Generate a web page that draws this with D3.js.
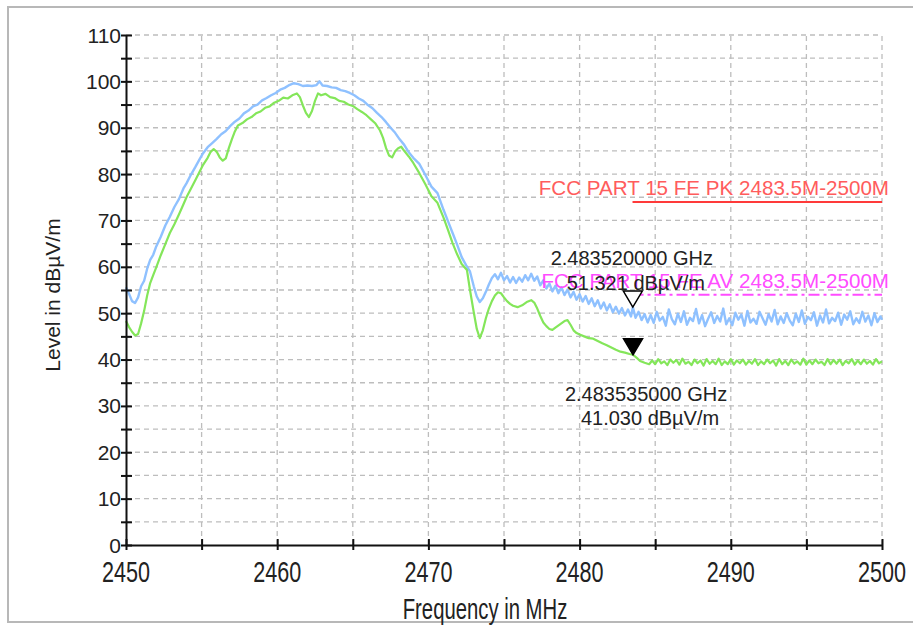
<!DOCTYPE html>
<html>
<head>
<meta charset="utf-8">
<script src="https://cdn.jsdelivr.net/npm/d3@7"></script>
<style>
  html, body { margin: 0; padding: 0; background: #fff; }
  svg { display: block; }
  text { font-family: Arial, "Liberation Sans", sans-serif; }
</style>
</head>
<body>
<div id="chart"></div>
<script>
// ---------------- DATA ----------------
const xDomain = [2450, 2500];
const yDomain = [0, 110];
const xTickValues = [2450, 2455, 2460, 2465, 2470, 2475, 2480, 2485, 2490, 2495, 2500];
const xTickLabels = [2450, 2460, 2470, 2480, 2490, 2500];
const yTickValues = [0, 5, 10, 15, 20, 25, 30, 35, 40, 45, 50, 55, 60, 65, 70, 75, 80, 85, 90, 95, 100, 105, 110];
const yTickLabels = [0, 10, 20, 30, 40, 50, 60, 70, 80, 90, 100, 110];
const xTitle = "Frequency in MHz";
const yTitle = "Level in dBµV/m";

// Peak trace (blue) [MHz, dBµV/m]
const peakTrace = [
[2450.0,55.6],[2450.2,54.2],[2450.4,52.6],[2450.6,52.2],[2450.8,53.4],[2451.0,55.8],[2451.2,57.0],[2451.4,59.6],[2451.6,61.5],[2451.8,62.6],
[2452.0,64.4],[2452.3,66.5],[2452.6,68.9],[2452.9,70.8],[2453.2,72.9],[2453.5,74.6],[2453.8,76.9],[2454.0,78.0],[2454.3,79.9],[2454.6,81.6],
[2454.9,83.4],[2455.1,84.5],[2455.4,85.8],[2455.7,86.7],[2456.0,87.6],[2456.3,88.6],[2456.6,89.3],[2456.9,90.4],[2457.2,91.3],[2457.5,92.0],
[2457.8,93.1],[2458.1,93.7],[2458.4,94.6],[2458.7,95.0],[2459.0,95.9],[2459.3,96.4],[2459.6,97.0],[2459.9,97.5],[2460.2,98.2],[2460.5,98.6],
[2460.8,99.2],[2461.1,99.6],[2461.4,99.4],[2461.7,99.0],[2462.0,99.1],[2462.3,99.0],[2462.6,99.2],[2462.8,100.0],[2463.0,99.1],[2463.3,99.0],
[2463.6,98.7],[2463.9,98.6],[2464.2,98.1],[2464.5,97.9],[2464.8,97.5],[2465.1,97.0],[2465.4,96.3],[2465.7,95.8],[2466.0,94.9],[2466.3,94.2],
[2466.6,93.2],[2466.9,92.3],[2467.2,91.2],[2467.5,90.0],[2467.8,88.9],[2468.1,87.5],[2468.4,86.3],[2468.7,84.7],[2469.0,83.5],[2469.4,82.2],
[2469.8,79.8],[2470.2,77.3],[2470.6,75.9],[2471.0,72.3],[2471.3,69.8],[2471.6,67.3],[2471.9,64.8],[2472.2,62.1],[2472.5,60.3],[2472.75,59.0],
[2473.0,55.8],[2473.2,53.6],[2473.4,52.4],[2473.6,53.2],[2473.8,54.6],[2474.0,56.2],[2474.2,57.6],[2474.4,58.4],[2474.6,57.3],[2474.8,58.7],
[2475.0,57.1],[2475.2,58.0],[2475.4,56.6],[2475.6,57.8],[2475.8,56.5],[2476.0,57.7],[2476.2,56.8],[2476.4,58.2],[2476.6,57.1],[2476.8,58.5],
[2477.0,57.0],[2477.2,57.9],[2477.4,56.0],[2477.6,57.1],[2477.8,55.3],[2478.0,56.4],[2478.2,54.7],[2478.4,55.9],[2478.6,54.3],[2478.8,55.6],
[2479.0,53.9],[2479.2,55.1],[2479.4,53.4],[2479.6,54.6],[2479.8,52.9],[2480.0,54.1],[2480.2,52.5],[2480.4,53.7],[2480.6,52.0],[2480.8,53.2],
[2481.0,51.5],[2481.2,52.8],[2481.4,51.0],[2481.6,52.3],[2481.8,50.6],[2482.0,51.9],[2482.2,50.2],[2482.4,51.4],[2482.6,49.9],[2482.8,51.1],
[2483.0,49.5],[2483.2,50.8],[2483.4,49.3],[2483.52,51.3],[2483.7,49.0],[2483.9,50.3],[2484.1,48.5],[2484.3,49.8],[2484.5,48.0],[2484.7,49.6],
[2484.9,47.9],[2485.1,50.3],[2485.3,48.4],[2485.5,49.2],[2485.7,47.3],[2485.9,50.8],[2486.1,48.7],[2486.3,47.6],[2486.5,49.9],[2486.7,48.1],
[2486.9,50.4],[2487.1,47.5],[2487.3,49.0],[2487.5,48.3],[2487.7,50.9],[2487.9,47.8],[2488.1,49.6],[2488.3,47.2],[2488.5,48.8],[2488.7,50.2],
[2488.9,47.9],[2489.1,49.4],[2489.3,48.2],[2489.5,51.0],[2489.7,47.6],[2489.9,48.9],[2490.1,47.4],[2490.3,50.1],[2490.5,48.6],[2490.7,49.7],
[2490.9,47.3],[2491.1,50.5],[2491.3,48.0],[2491.5,48.8],[2491.7,47.7],[2491.9,50.3],[2492.1,48.9],[2492.3,47.5],[2492.5,49.8],[2492.7,48.2],
[2492.9,50.7],[2493.1,47.6],[2493.3,49.3],[2493.5,47.9],[2493.7,50.0],[2493.9,48.4],[2494.1,47.4],[2494.3,49.9],[2494.5,48.1],[2494.7,50.6],
[2494.9,47.7],[2495.1,49.2],[2495.3,48.5],[2495.5,50.2],[2495.7,47.3],[2495.9,49.5],[2496.1,48.0],[2496.3,50.8],[2496.5,47.8],[2496.7,49.0],
[2496.9,48.3],[2497.1,50.1],[2497.3,47.5],[2497.5,49.7],[2497.7,48.6],[2497.9,50.4],[2498.1,47.6],[2498.3,48.9],[2498.5,47.9],[2498.7,50.3],
[2498.9,48.2],[2499.1,49.5],[2499.3,47.4],[2499.5,50.0],[2499.7,48.1],[2499.9,49.3],[2500.0,48.6]
];

// Average trace (green) [MHz, dBµV/m]
const avgTrace = [
[2450.0,48.3],[2450.2,47.0],[2450.4,46.0],[2450.6,45.2],[2450.8,45.5],[2451.0,47.8],[2451.2,50.5],[2451.4,53.8],[2451.6,56.5],[2451.8,58.2],
[2452.0,59.9],[2452.3,62.5],[2452.6,64.9],[2452.9,67.3],[2453.2,69.2],[2453.5,71.3],[2453.8,73.5],[2454.0,75.0],[2454.3,76.9],[2454.6,78.8],
[2454.9,80.7],[2455.1,82.0],[2455.4,83.5],[2455.6,84.8],[2455.8,85.4],[2456.0,84.8],[2456.2,83.6],[2456.4,82.9],[2456.6,83.4],[2456.8,85.6],
[2457.0,87.5],[2457.2,89.2],[2457.4,90.5],[2457.7,91.0],[2458.0,91.8],[2458.3,92.3],[2458.6,93.1],[2458.9,93.5],[2459.2,94.3],[2459.5,94.6],
[2459.8,95.4],[2460.1,95.8],[2460.4,96.5],[2460.7,96.3],[2461.0,97.0],[2461.3,97.4],[2461.5,96.6],[2461.7,94.8],[2461.9,93.2],[2462.1,92.3],
[2462.3,93.6],[2462.5,95.8],[2462.7,97.4],[2462.9,97.0],[2463.2,97.3],[2463.5,96.6],[2463.8,96.4],[2464.1,95.8],[2464.4,95.6],[2464.7,95.0],
[2465.0,94.7],[2465.3,94.0],[2465.6,93.4],[2465.9,92.7],[2466.2,91.8],[2466.5,90.9],[2466.8,89.4],[2467.0,87.8],[2467.2,85.6],[2467.4,84.0],
[2467.6,83.6],[2467.8,84.9],[2468.0,85.6],[2468.2,85.9],[2468.4,85.0],[2468.7,83.8],[2469.0,82.4],[2469.4,80.2],[2469.8,77.8],[2470.2,75.2],
[2470.6,73.8],[2471.0,70.6],[2471.3,67.9],[2471.6,65.1],[2471.9,62.7],[2472.2,60.6],[2472.55,59.3],[2472.75,55.0],[2473.0,50.2],[2473.2,46.6],
[2473.4,44.6],[2473.6,46.3],[2473.8,48.9],[2474.0,51.0],[2474.2,52.6],[2474.4,53.8],[2474.6,54.5],[2474.8,54.3],[2475.0,53.4],[2475.2,52.6],
[2475.4,52.0],[2475.6,51.6],[2475.9,51.3],[2476.2,51.7],[2476.5,52.4],[2476.8,52.8],[2477.0,52.3],[2477.2,51.0],[2477.4,49.4],[2477.6,48.0],
[2477.8,47.2],[2478.0,46.6],[2478.2,46.4],[2478.4,46.9],[2478.7,47.6],[2479.0,48.3],[2479.2,48.5],[2479.4,47.5],[2479.6,46.3],[2479.8,45.7],
[2480.0,45.4],[2480.3,45.0],[2480.6,44.6],[2480.9,44.5],[2481.2,44.0],[2481.5,43.5],[2481.8,43.1],[2482.1,42.6],[2482.4,42.1],[2482.7,41.7],
[2483.0,41.5],[2483.3,41.2],[2483.535,41.03],[2483.8,40.3],[2484.0,39.7],[2484.3,39.3],[2484.6,39.0],
[2484.8,39.8],[2485.0,39.0],[2485.2,40.1],[2485.4,39.2],[2485.6,39.6],[2485.8,38.8],[2486.0,40.0],[2486.2,39.3],[2486.4,39.9],[2486.6,38.9],
[2486.8,40.2],[2487.0,39.1],[2487.2,39.5],[2487.4,38.8],[2487.6,40.0],[2487.8,39.2],[2488.0,39.8],[2488.2,38.7],[2488.4,40.1],[2488.6,39.1],
[2488.8,39.7],[2489.0,39.0],[2489.2,40.2],[2489.4,38.8],[2489.6,39.6],[2489.8,39.0],[2490.0,40.1],[2490.2,38.9],[2490.4,39.8],[2490.6,39.2],
[2490.8,40.0],[2491.0,38.9],[2491.2,39.7],[2491.4,39.1],[2491.6,40.1],[2491.8,38.8],[2492.0,39.6],[2492.2,39.0],[2492.4,40.0],[2492.6,39.2],
[2492.8,39.8],[2493.0,38.7],[2493.2,40.1],[2493.4,39.0],[2493.6,39.7],[2493.8,38.8],[2494.0,40.0],[2494.2,39.1],[2494.4,39.6],[2494.6,38.9],
[2494.8,40.2],[2495.0,38.9],[2495.2,39.8],[2495.4,39.0],[2495.6,40.0],[2495.8,39.2],[2496.0,39.5],[2496.2,38.8],[2496.4,40.1],[2496.6,39.0],
[2496.8,39.9],[2497.0,39.1],[2497.2,40.0],[2497.4,38.8],[2497.6,39.7],[2497.8,39.2],[2498.0,40.1],[2498.2,38.9],[2498.4,39.8],[2498.6,39.0],
[2498.8,40.0],[2499.0,39.1],[2499.2,39.7],[2499.4,38.9],[2499.6,40.1],[2499.8,39.2],[2500.0,39.6]
];

// Limit lines
const limitNames = ["FCC PART 15 FE PK 2483.5M-2500M", "FCC PART 15 FE AV 2483.5M-2500M"];
const limitStart = [2483.5, 2483.5];
const limitEnd = [2500, 2500];
const limitLevel = [74, 54];

// Markers
const markerFreqMHz = [2483.52, 2483.535];
const markerLevel = [51.321, 41.030];
const markerFreqText = ["2.483520000 GHz", "2.483535000 GHz"];
const markerLevelText = ["51.321 dBµV/m", "41.030 dBµV/m"];

// ---------------- DRAW ----------------
const W = 913, H = 625;
const svg = d3.select("#chart").append("svg").attr("width", W).attr("height", H);
svg.append("rect").attr("width", W).attr("height", H).attr("fill", "#fff");
// outer frame
svg.append("rect").attr("x", 8).attr("y", 7).attr("width", 930).attr("height", 615)
  .attr("fill", "none").attr("stroke", "#b8b8b8").attr("stroke-width", 2);

const x = d3.scaleLinear().domain(xDomain).range([126, 882]);
const y = d3.scaleLinear().domain(yDomain).range([545, 35]);

const textColor = "#222";

// grid
const grid = svg.append("g");
grid.selectAll("line.h").data(yTickValues.filter(v => v > 0)).join("line")
  .attr("x1", x(xDomain[0])).attr("x2", x(xDomain[1]))
  .attr("y1", d => y(d)).attr("y2", d => y(d))
  .attr("stroke", "#bdbdbd").attr("stroke-width", 1.3).attr("stroke-dasharray", "5,4");
grid.selectAll("line.v").data(xTickValues.filter(v => v > xDomain[0])).join("line")
  .attr("y1", y(yDomain[0])).attr("y2", y(yDomain[1]))
  .attr("x1", d => x(d)).attr("x2", d => x(d))
  .attr("stroke", "#bdbdbd").attr("stroke-width", 1.3).attr("stroke-dasharray", "5,4");

// traces
const line = d3.line().x(d => x(d[0])).y(d => y(d[1]));
svg.append("path").datum(peakTrace).attr("d", line)
  .attr("fill", "none").attr("stroke", "#8fc1ff").attr("stroke-width", 2.4).attr("stroke-linejoin", "round");
svg.append("path").datum(avgTrace).attr("d", line)
  .attr("fill", "none").attr("stroke", "#84e65a").attr("stroke-width", 2.2).attr("stroke-linejoin", "round");

// limit lines
const limitColors = ["#ff3a3a", "#ff4cff"];
const limitTextColors = ["#ff5c5c", "#ff4cff"];
const limitDash = [null, "11,4,3,4"];
limitNames.forEach((name, i) => {
  svg.append("line")
    .attr("x1", x(limitStart[i])).attr("x2", x(limitEnd[i]))
    .attr("y1", y(limitLevel[i])).attr("y2", y(limitLevel[i]))
    .attr("stroke", limitColors[i]).attr("stroke-width", 2)
    .attr("stroke-dasharray", limitDash[i]);
  svg.append("text")
    .attr("x", 889).attr("y", y(limitLevel[i]) - 7)
    .attr("text-anchor", "end").attr("font-size", 20.6)
    .attr("fill", limitTextColors[i]).text(name);
});

// axes
const yAxis = d3.axisLeft(y).tickValues(yTickValues).tickFormat("").tickSizeOuter(0);
const gy = svg.append("g").attr("transform", `translate(${x(xDomain[0])},0)`).call(yAxis);
gy.select(".domain").attr("stroke", "#111").attr("stroke-width", 2);
gy.selectAll(".tick line").attr("x1", -5).attr("x2", 6).attr("stroke", "#111").attr("stroke-width", 2);

const xAxis = d3.axisBottom(x).tickValues(xTickValues).tickFormat("").tickSizeOuter(0);
const gx = svg.append("g").attr("transform", `translate(0,${y(yDomain[0])})`).call(xAxis);
gx.select(".domain").attr("stroke", "#111").attr("stroke-width", 2);
gx.selectAll(".tick line").attr("y1", -6).attr("y2", 5).attr("stroke", "#111").attr("stroke-width", 2);

// y tick labels
svg.append("g").selectAll("text").data(yTickLabels).join("text")
  .attr("x", 121).attr("y", d => y(d) + 7.5)
  .attr("text-anchor", "end").attr("font-size", 21).attr("fill", textColor)
  .text(d => d);

// x tick labels (condensed)
svg.append("g").selectAll("text").data(xTickLabels).join("text")
  .attr("transform", d => `translate(${x(d)},582) scale(0.72,1)`)
  .attr("text-anchor", "middle").attr("font-size", 30).attr("fill", textColor)
  .text(d => d);

// axis titles
svg.append("text").attr("transform", "translate(485,619) scale(0.7,1)")
  .attr("text-anchor", "middle").attr("font-size", 29).attr("fill", textColor).text(xTitle);
svg.append("text").attr("transform", "translate(60,295) rotate(-90)")
  .attr("text-anchor", "middle").attr("font-size", 21).attr("fill", textColor).text(yTitle);

// markers
const triW = 19, triH = 16;
markerFreqMHz.forEach((f, i) => {
  const px = x(f), py = y(markerLevel[i]);
  svg.append("path")
    .attr("d", `M${px},${py} L${px - triW / 2},${py - triH} L${px + triW / 2},${py - triH} Z`)
    .attr("fill", i === 0 ? "#fff" : "#000")
    .attr("stroke", "#000").attr("stroke-width", 1.5).attr("stroke-linejoin", "miter");
});
// marker labels
const mLab = svg.append("g").attr("font-size", 20).attr("fill", textColor).attr("text-anchor", "middle");
mLab.append("text").attr("x", x(markerFreqMHz[0]) - 1).attr("y", 265).text(markerFreqText[0]);
mLab.append("text").attr("x", x(markerFreqMHz[0]) + 3).attr("y", 290).text(markerLevelText[0]);
mLab.append("text").attr("x", x(markerFreqMHz[1]) + 13).attr("y", 401).text(markerFreqText[1]);
mLab.append("text").attr("x", x(markerFreqMHz[1]) + 17).attr("y", 425).text(markerLevelText[1]);
</script>
</body>
</html>
